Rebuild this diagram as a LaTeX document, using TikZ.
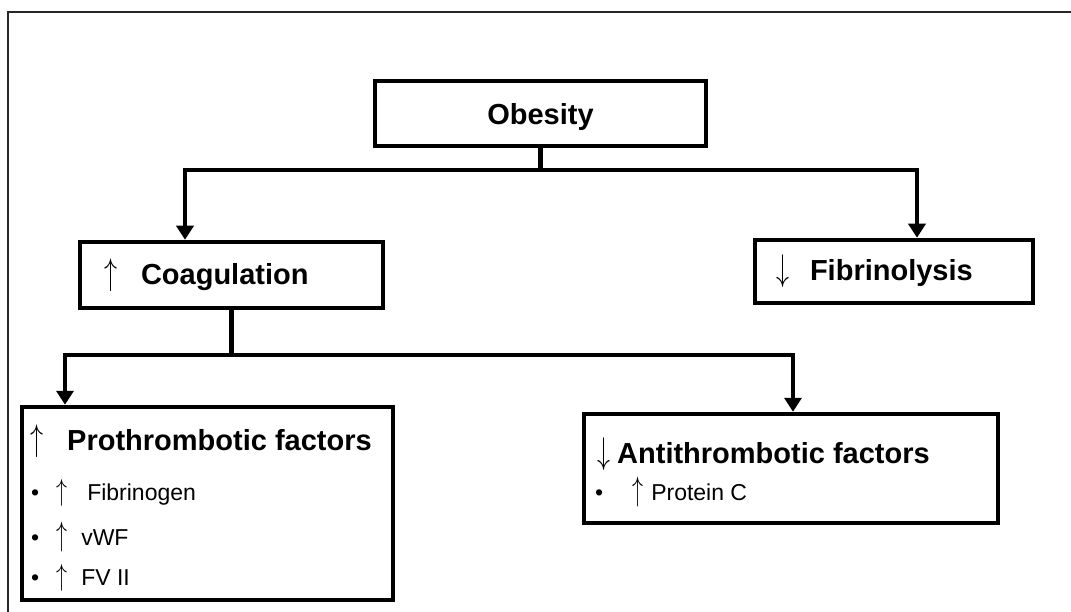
\documentclass[tikz,border=0pt]{standalone}
\usepackage{fontspec}
\setmainfont{Liberation Sans}
\usetikzlibrary{arrows.meta, positioning, calc}
\newcommand{\uparr}[2]{\resizebox*{#1}{#2}{$\uparrow$}}
\newcommand{\dnarr}[2]{\resizebox*{#1}{#2}{$\downarrow$}}

\begin{document}
\begin{tikzpicture}[
  x = 1pt, y = -1pt,
  every node/.style = {inner sep=0pt},
  box/.style     = {rectangle, draw=black, line width=4.5pt, fill=white},
  headtxt/.style = {font=\fontsize{29}{34}\selectfont\bfseries},
  itemtxt/.style = {font=\fontsize{23}{27}\selectfont, anchor=base west},
  link/.style    = {line width=4.5pt},
  arr/.style     = {line width=4.5pt, -{Triangle[length=14pt,width=17pt]}},
  frame/.style   = {line width=1.6pt, black!85}
]
\useasboundingbox (0,0) rectangle (1071,612);
\draw[frame] (8,612) -- (8,12) -- (1071,12);

% top level
\node[box, headtxt, minimum width=331pt, minimum height=65pt, text height=22pt, text depth=0pt]
  (obesity) at (540.5,113.5) {Obesity};

\node[box, headtxt, text width=255pt, inner xsep=24pt, minimum height=66pt, align=left]
  (coag) at (231.5,275) {\uparr{13pt}{33pt}\hspace{24pt}Coagulation};
\node[box, headtxt, text width=236pt, inner xsep=21pt, minimum height=63pt, align=left]
  (fibrin) at (894,271.5) {\dnarr{13pt}{33pt}\hspace{21pt}Fibrinolysis};

% factor boxes
\node[box, minimum width=371pt, minimum height=193pt] (proth) at (207.5,503.5) {};
\node[headtxt, anchor=base west] (prothHead) at (30,450)
  {\uparr{13pt}{33pt}\hspace{24pt}Prothrombotic factors};
\node[itemtxt] (fbg)  at (31,500) {\textbullet\hspace{17pt}\uparr{11pt}{27pt}\hspace{20pt}Fibrinogen};
\node[itemtxt] (vwf)  at (31,545) {\textbullet\hspace{17pt}\uparr{11pt}{30pt}\hspace{14pt}vWF};
\node[itemtxt] (fvii) at (31,585) {\textbullet\hspace{17pt}\uparr{11pt}{27pt}\hspace{14pt}FV II};

\node[box, minimum width=414pt, minimum height=109pt] (anti) at (791,468.5) {};
\node[headtxt, anchor=base west] (antiHead) at (597,463)
  {\dnarr{13pt}{33pt}\hspace{7pt}Antithrombotic factors};
\node[itemtxt] (protc) at (595,500) {\textbullet\hspace{29pt}\uparr{11pt}{30pt}\hspace{8pt}Protein C};

% connectors
\coordinate (split1)  at (obesity.south |- 0,170);
\coordinate (split1L) at (185,170);
\coordinate (split1R) at (917,170);
\draw[link] (obesity.south) -- (split1);
\draw[arr] (split1) -- (split1L) -- (split1L |- coag.north);
\draw[arr] (split1) -- (split1R) -- (split1R |- fibrin.north);

\coordinate (split2)  at (coag.south |- 0,355);
\coordinate (split2L) at (65,355);
\coordinate (split2R) at (793,355);
\draw[link] (coag.south) -- (split2);
\draw[arr] (split2) -- (split2L) -- (split2L |- proth.north);
\draw[arr] (split2) -- (split2R) -- (split2R |- anti.north);
\end{tikzpicture}
\end{document}
